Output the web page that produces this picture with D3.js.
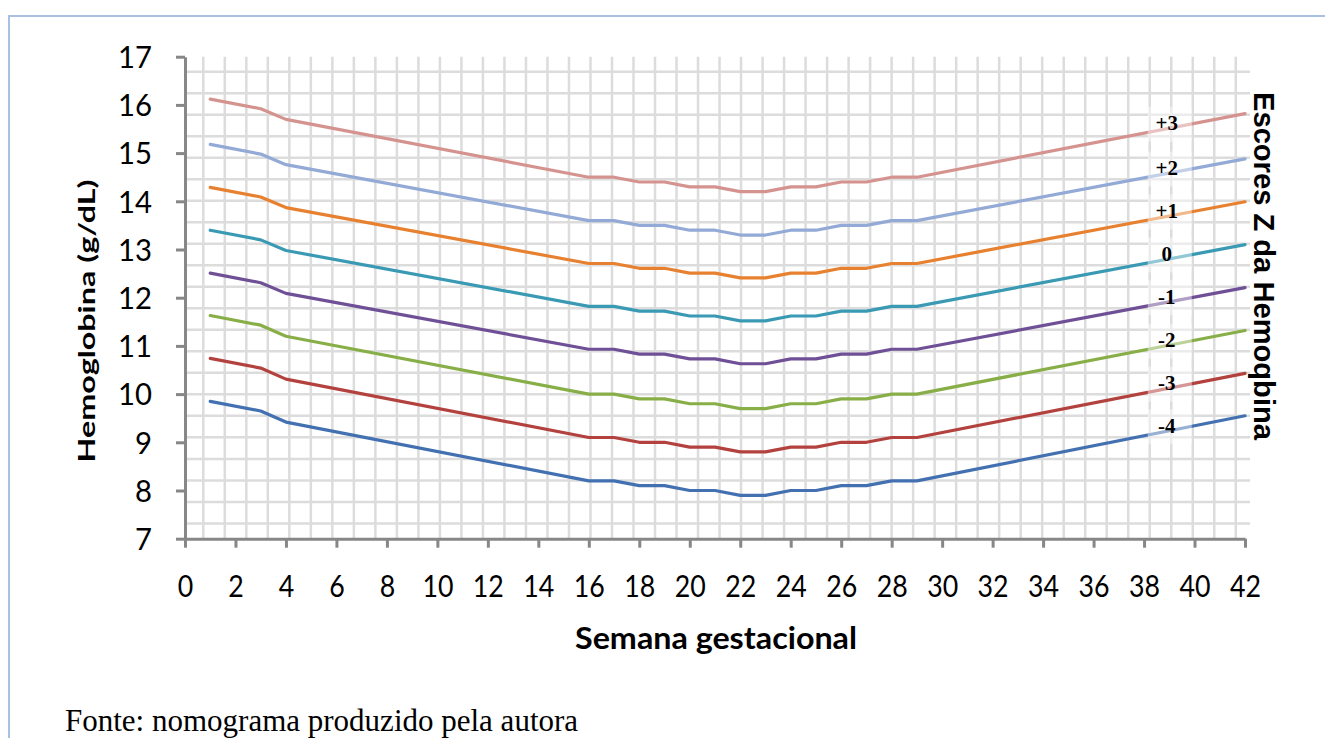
<!DOCTYPE html>
<html>
<head>
<meta charset="utf-8">
<script src="https://cdn.jsdelivr.net/npm/d3@7"></script>
<style>
  body { margin: 0; background: #fff; }
  svg { display: block; }
</style>
</head>
<body>
<svg id="nomo" width="1325" height="738"></svg>
<script>
// semanas com ponto no grafico
const weeks = [1, 3, 4, 16, 17, 18, 19, 20, 21, 22, 23, 24, 25, 26, 27, 28, 29, 42]

const zP3 = [16.12, 15.92, 15.70, 14.50, 14.50, 14.40, 14.40, 14.30, 14.30, 14.20, 14.20, 14.30, 14.30, 14.40, 14.40, 14.50, 14.50, 15.82]
const zP2 = [15.18, 14.98, 14.76, 13.60, 13.60, 13.50, 13.50, 13.40, 13.40, 13.30, 13.30, 13.40, 13.40, 13.50, 13.50, 13.60, 13.60, 14.88]
const zP1 = [14.29, 14.09, 13.87, 12.71, 12.71, 12.61, 12.61, 12.51, 12.51, 12.41, 12.41, 12.51, 12.51, 12.61, 12.61, 12.71, 12.71, 13.99]
const z0  = [13.40, 13.20, 12.98, 11.82, 11.82, 11.72, 11.72, 11.62, 11.62, 11.52, 11.52, 11.62, 11.62, 11.72, 11.72, 11.82, 11.82, 13.10]
const zM1 = [12.51, 12.31, 12.09, 10.93, 10.93, 10.83, 10.83, 10.73, 10.73, 10.63, 10.63, 10.73, 10.73, 10.83, 10.83, 10.93, 10.93, 12.21]
const zM2 = [11.63, 11.43, 11.20, 10.00, 10.00, 9.90, 9.90, 9.80, 9.80, 9.70, 9.70, 9.80, 9.80, 9.90, 9.90, 10.00, 10.00, 11.32]
const zM3 = [10.74, 10.54, 10.31, 9.10, 9.10, 9.00, 9.00, 8.90, 8.90, 8.80, 8.80, 8.90, 8.90, 9.00, 9.00, 9.10, 9.10, 10.43]
const zM4 = [9.85, 9.65, 9.42, 8.20, 8.20, 8.10, 8.10, 8.00, 8.00, 7.90, 7.90, 8.00, 8.00, 8.10, 8.10, 8.20, 8.20, 9.55]

const seriesNames = ['+3', '+2', '+1', '0', '-1', '-2', '-3', '-4']
const seriesValues = [zP3, zP2, zP1, z0, zM1, zM2, zM3, zM4]

const xTicks = d3.range(0, 43, 2)
const yTicks = d3.range(7, 18, 1)

const lineColors = ['#D59390', '#93AAD6', '#E7812F', '#3A9AB4', '#6F5096', '#88AE48', '#B3423F', '#4270B0']

let svg = d3.select('#nomo')

// moldura azul clara
svg.append('path')
    .attr('d', 'M9,760 L9,16 L1340,16')
    .attr('fill', 'none')
    .attr('stroke', '#A9C1E1')
    .attr('stroke-width', 2)

let x = d3.scaleLinear().domain([0, 42]).range([185, 1245])
let y = d3.scaleLinear().domain([7, 17]).range([538.7, 56.7])

// papel milimetrado de fundo (passo fixo em pixels)
let gridStep = 21.51
let gridRight = 1250
let grid = svg.append('g').attr('stroke', '#DCDCDC').attr('stroke-width', 2.5)
d3.range(203.3, gridRight, gridStep).forEach(function (gx) {
    grid.append('line').attr('x1', gx).attr('x2', gx).attr('y1', y(17)).attr('y2', y(7))
})
d3.range(71.7, y(7), gridStep).forEach(function (gy) {
    grid.append('line').attr('x1', x(0)).attr('x2', gridRight).attr('y1', gy).attr('y2', gy)
})

//Y axis
let yAxis = svg.append('g')
    .attr('transform', 'translate(' + x(0) + ',0)')
    .call(d3.axisLeft(y).tickValues(yTicks).tickSize(9).tickSizeOuter(0).tickFormat(d3.format('d')))
yAxis.select('.domain').attr('stroke', '#878787').attr('stroke-width', 3)
yAxis.selectAll('.tick line').attr('stroke', '#878787').attr('stroke-width', 3)
yAxis.selectAll('.tick text')
    .attr('x', -33)
    .attr('dy', '0.36em')
    .style('font-family', 'Lato, sans-serif')
    .style('font-size', '30px')
    .attr('fill', '#000')
    .attr('textLength', function (d) { return String(d).length * 17 })
    .attr('lengthAdjust', 'spacingAndGlyphs')

//X axis
let xAxis = svg.append('g')
    .attr('transform', 'translate(0,' + y(7) + ')')
    .call(d3.axisBottom(x).tickValues(xTicks).tickSize(9).tickSizeOuter(0).tickFormat(d3.format('d')))
xAxis.select('.domain').attr('stroke', '#878787').attr('stroke-width', 3)
xAxis.selectAll('.tick line').attr('stroke', '#878787').attr('stroke-width', 3)
xAxis.selectAll('.tick text')
    .attr('y', 58)
    .attr('dy', 0)
    .style('font-family', 'Lato, sans-serif')
    .style('font-size', '30px')
    .attr('fill', '#000')
    .attr('textLength', function (d) { return String(d).length * 15.5 })
    .attr('lengthAdjust', 'spacingAndGlyphs')

// linhas dos escores
let line = d3.line()
    .x(function (d) { return x(d[0]) })
    .y(function (d) { return y(d[1]) })

seriesValues.forEach(function (vals, i) {
    svg.append('path')
        .datum(d3.zip(weeks, vals))
        .attr('d', line)
        .attr('fill', 'none')
        .attr('stroke', lineColors[i])
        .attr('stroke-width', 3.2)
        .attr('stroke-linejoin', 'round')
        .attr('stroke-linecap', 'round')
})

// rotulos dos escores em caixas semi-transparentes
let labelWeek = 38.9
seriesValues.forEach(function (vals, i) {
    let n = vals.length
    let t = (labelWeek - weeks[n - 2]) / (weeks[n - 1] - weeks[n - 2])
    let ly = y(vals[n - 2] + t * (vals[n - 1] - vals[n - 2])) - 6
    svg.append('rect')
        .attr('x', x(labelWeek) - 19)
        .attr('y', ly - 16)
        .attr('width', 44)
        .attr('height', 35)
        .attr('fill', '#fff')
        .attr('opacity', 0.45)
    svg.append('text')
        .attr('x', x(labelWeek))
        .attr('y', ly)
        .attr('dy', '0.35em')
        .attr('text-anchor', 'middle')
        .style('font-family', '"Liberation Serif", "Times New Roman", serif')
        .style('font-weight', 'bold')
        .style('font-size', '21px')
        .text(seriesNames[i])
})

// titulos
svg.append('text')
    .attr('transform', 'translate(95,321) rotate(-90)')
    .attr('text-anchor', 'middle')
    .style('font-family', 'Lato, sans-serif')
    .style('font-weight', 'bold')
    .style('font-size', '23px')
    .attr('textLength', 283)
    .attr('lengthAdjust', 'spacingAndGlyphs')
    .text('Hemoglobina (g/dL)')

svg.append('text')
    .attr('x', 716)
    .attr('y', 649)
    .attr('text-anchor', 'middle')
    .style('font-family', 'Lato, sans-serif')
    .style('font-weight', 'bold')
    .style('font-size', '30px')
    .attr('textLength', 282)
    .attr('lengthAdjust', 'spacingAndGlyphs')
    .text('Semana gestacional')

svg.append('text')
    .attr('transform', 'translate(1254,266) rotate(90)')
    .attr('text-anchor', 'middle')
    .style('font-family', '"Liberation Sans", Arial, sans-serif')
    .style('font-weight', 'bold')
    .style('font-size', '30px')
    .attr('textLength', 348)
    .attr('lengthAdjust', 'spacingAndGlyphs')
    .text('Escores Z da Hemoqbina')

svg.append('text')
    .attr('x', 65)
    .attr('y', 731)
    .style('font-family', '"Liberation Serif", "Times New Roman", serif')
    .style('font-size', '31px')
    .text('Fonte: nomograma produzido pela autora')
</script>
</body>
</html>
